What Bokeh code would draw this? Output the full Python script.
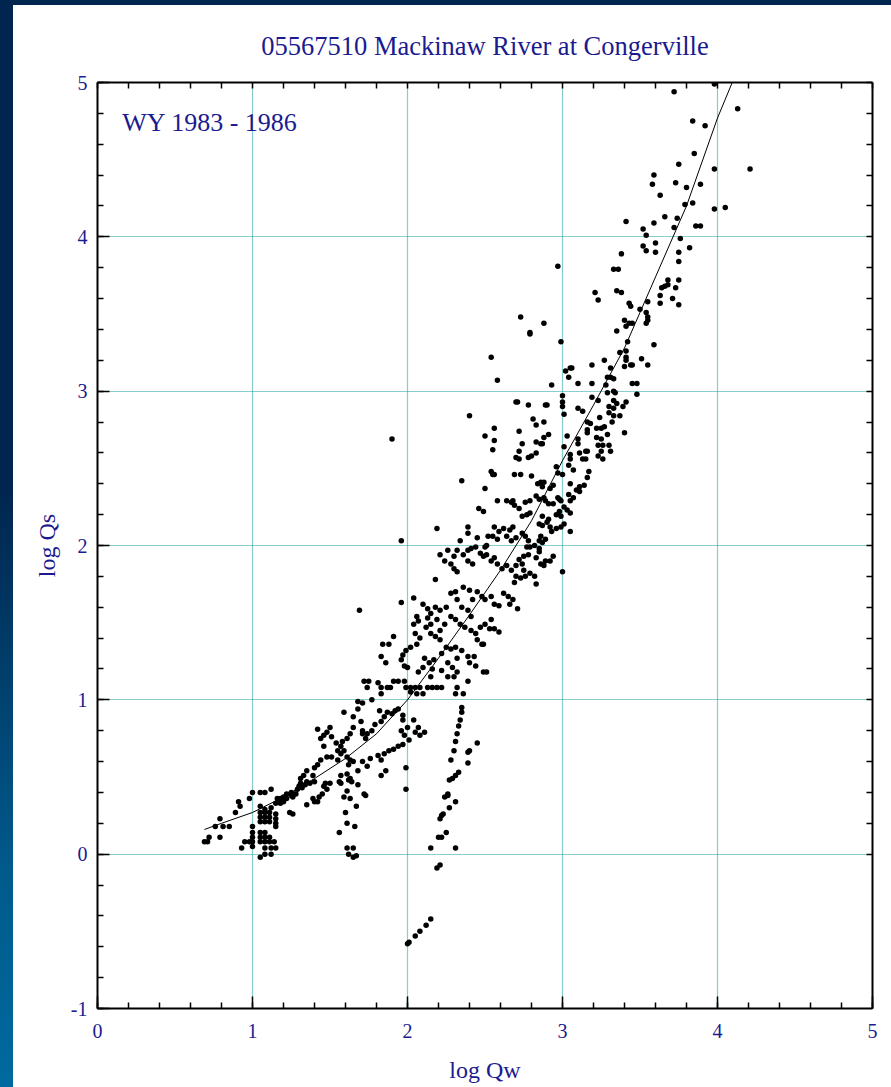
from bokeh.plotting import figure
from bokeh.models import (Label, LinearAxis, SingleIntervalTicker, FixedTicker, Range1d,
                          PrintfTickFormatter, Div)
from bokeh.layouts import column, row
from bokeh.embed import file_html
from bokeh.resources import INLINE

NAVY = "#1b1b8f"
FONT = "Liberation Serif"

title_text = "05567510 Mackinaw River at Congerville"
period_text = "WY 1983 - 1986"
x_label = "log Qw"
y_label = "log Qs"

pts_top = [(3.98,4.99),(3.72,4.94),(4.13,4.83),(3.84,4.75),(3.92,4.72),(3.85,4.54),(3.75,4.47),(3.98,4.44),
           (4.21,4.44),(3.59,4.40),(3.58,4.34),(3.73,4.35),(3.80,4.32),(3.89,4.34),(3.63,4.27),(3.79,4.21),
           (3.84,4.22),(3.98,4.18),(4.05,4.19),(3.41,4.10),(3.66,4.13),(3.74,4.12),(3.59,4.09),(3.52,4.05),
           (3.72,4.06),(3.86,4.07),(3.89,4.07),(3.54,4.01),(3.76,3.99),(3.52,3.94),(3.60,3.96),(3.82,3.93),
           (3.38,3.89),(3.54,3.91),(3.60,3.90),(3.75,3.90),(3.75,3.84),(3.33,3.79),(3.36,3.79),(3.68,3.72),
           (3.75,3.72)]

pts_upper = [(2.97,3.81),(3.64,3.67),(3.66,3.68),(3.68,3.69),(3.73,3.67),(3.35,3.65),(3.38,3.64),(3.21,3.64),
             (3.23,3.59),(3.63,3.62),(3.63,3.57),(3.71,3.60),(3.75,3.56),(3.43,3.57),(3.44,3.55),(3.55,3.58),
             (3.50,3.53),(3.54,3.51),(3.55,3.48),(3.55,3.46),(3.54,3.44),(3.40,3.46),(3.43,3.44),(3.45,3.44),
             (3.41,3.42),(3.35,3.39),(2.88,3.44),(2.79,3.38),(2.99,3.32),(3.42,3.32),(3.59,3.30),(3.41,3.26),
             (3.37,3.25),(3.41,3.22),(3.41,3.20),(3.51,3.21),(3.27,3.20),(3.19,3.17),(3.44,3.17),(3.45,3.17),
             (3.40,3.16),(3.55,3.17),(3.31,3.15),(3.06,3.15),(3.05,3.15),(3.02,3.13),(3.04,3.09),(3.29,3.09),
             (3.31,3.09),(3.33,3.08),(3.10,3.05),(3.19,3.05),(2.93,3.04),(3.28,3.04),(3.45,3.05),(3.48,3.05),
             (3.33,3.00),(3.34,2.99),(3.29,2.99),(3.48,2.98),(3.00,2.97),(3.19,2.96),(3.23,2.94),(3.33,2.94),
             (3.35,2.92),(3.41,2.93),(3.00,2.93),(3.00,2.90),(2.89,2.91),(2.90,2.91),(3.30,2.90),(3.33,2.89),
             (3.39,2.90),(3.10,2.89),(3.13,2.87),(3.01,2.85),(3.30,2.86),(3.33,2.84),(3.37,2.84),(3.24,2.83),
             (2.81,2.82),(2.83,2.78),(2.88,2.80),(3.16,2.80),(3.18,2.79),(3.32,2.80),(3.22,2.76),(3.25,2.76),
             (3.27,2.77),(3.16,2.75),(3.16,2.73),(3.29,2.72),(3.22,2.70),(3.25,2.69),(3.40,2.73),(2.91,2.72),
             (2.88,2.70),(3.03,2.71),(2.83,2.67),(2.86,2.66),(2.87,2.66),(3.10,2.69),(3.01,2.64),(3.10,2.66),
             (3.23,2.65),(3.26,2.65),(3.30,2.65),(3.15,2.61),(3.16,2.61),(3.25,2.61),(3.31,2.61),(2.83,2.60),
             (3.05,2.59),(3.11,2.60),(3.23,2.58),(3.13,2.56),(3.15,2.56),(3.26,2.56),(3.05,2.56),
             (2.73,3.48),(2.79,3.37),(2.54,3.22),(2.58,3.07)]

pts_middle = [(2.70,2.93),(2.71,2.93),(2.78,2.91),(2.40,2.84),(1.90,2.69),(2.56,2.76),(2.56,2.68),(2.50,2.71),
              (2.55,2.62),(2.72,2.74),(2.74,2.66),(2.72,2.61),(2.72,2.56),(2.70,2.57),(2.78,2.57),(2.80,2.58),
              (2.54,2.48),(2.55,2.46),(2.56,2.46),(2.35,2.42),(2.50,2.37),(2.69,2.46),(2.73,2.46),(2.80,2.45),
              (2.84,2.40),(2.87,2.38),(2.88,2.41),(2.92,2.37),(2.94,2.39),(2.96,2.51),(2.97,2.47),(3.00,2.46),
              (3.04,2.52),(3.07,2.49),(3.05,2.40),(3.09,2.36),(3.11,2.38),(3.04,2.33),(3.07,2.31),(3.05,2.29),
              (3.11,2.35),(3.17,2.48),(3.16,2.44),(3.14,2.39),(2.86,2.41),(2.83,2.32),(2.85,2.30),(2.88,2.31),
              (2.89,2.29),(2.91,2.27),(2.97,2.31),(2.98,2.30),(2.99,2.29),(2.94,2.27),(3.01,2.25),(3.03,2.23),
              (3.05,2.21),(2.98,2.22),(2.96,2.20),(2.99,2.19),(2.87,2.19),(2.91,2.17),(2.85,2.14),(2.87,2.13),
              (2.90,2.15),(2.92,2.12),(2.93,2.09),(2.96,2.11),(2.99,2.12),(3.01,2.14),(3.05,2.09),(2.86,2.06),
              (2.85,2.03),(2.79,2.21),(2.77,2.20),(2.74,2.19),(2.79,2.29),(2.76,2.28),(2.72,2.24),(2.69,2.26),
              (2.64,2.29),(2.67,2.28),(2.68,2.29),(2.58,2.29),(2.46,2.24),(2.49,2.22),(2.39,2.12),(2.39,2.08),
              (2.19,2.11),(1.96,2.03),(2.56,2.12),(2.59,2.09),(2.62,2.11),(2.66,2.10),(2.68,2.12),(2.45,2.05),
              (2.52,2.06),(2.50,1.99),(2.51,2.00),(2.55,2.06),(2.58,2.04),(2.64,2.06),(2.67,2.03),(2.70,2.05),
              (2.74,2.08),(2.76,2.06),(2.78,2.03),(2.82,2.00),(2.85,1.98),(2.77,1.99),(2.79,1.99),(2.87,2.02),
              (2.89,2.04),(2.75,1.93),(2.78,1.94),(2.72,1.91),(2.74,1.88),(2.70,1.87),(2.75,1.84),(2.83,1.92),
              (2.85,1.96),(2.86,1.88),(2.88,1.87),(2.89,1.90),(2.92,1.90),(2.94,1.93),(3.00,1.83),(2.79,1.82),
              (2.82,1.80),(2.83,1.75),(2.76,1.80),(2.73,1.79),(2.70,1.80),(2.69,1.76),(2.67,1.84),(2.64,1.87),
              (2.61,1.85),(2.58,1.88),(2.56,1.92),(2.54,1.90),(2.51,1.94),(2.49,1.93),(2.47,1.95),(2.44,1.99),
              (2.41,1.98),(2.39,1.97),(2.36,1.94),(2.39,1.90),(2.42,1.88),(2.34,2.03),(2.32,1.97),(2.30,1.93),
              (2.26,1.97),(2.24,1.90),(2.21,1.94),(2.28,1.88),(2.30,1.85),(2.32,1.83),(2.18,1.78)]

pts_lower_mid = [(1.96,1.63),(1.69,1.58),(2.04,1.66),(2.10,1.62),(2.13,1.59),(2.15,1.56),(2.18,1.60),(2.21,1.58),
                 (2.25,1.60),(2.28,1.69),(2.31,1.70),(2.32,1.65),(2.36,1.73),(2.40,1.71),(2.42,1.65),(2.45,1.70),
                 (2.48,1.67),(2.50,1.65),(2.54,1.67),(2.56,1.62),(2.59,1.61),(2.62,1.69),(2.65,1.67),(2.68,1.65),
                 (2.71,1.59),(2.66,1.62),(2.35,1.60),(2.39,1.58),(2.41,1.54),(2.28,1.54),(2.31,1.52),(2.34,1.49),
                 (2.19,1.52),(2.24,1.49),(2.21,1.45),(2.13,1.53),(2.15,1.49),(2.12,1.47),(2.06,1.54),(2.07,1.51),
                 (2.04,1.49),(2.37,1.47),(2.41,1.45),(2.44,1.43),(2.47,1.47),(2.50,1.49),(2.54,1.52),(2.53,1.46),
                 (2.56,1.46),(2.59,1.44),(2.45,1.39),(2.48,1.36),(2.49,1.36),(2.15,1.43),(2.18,1.41),(2.21,1.39),
                 (2.25,1.34),(2.28,1.33),(2.31,1.34),(2.35,1.32),(2.39,1.28),(2.43,1.28),(2.05,1.43),(2.08,1.40),
                 (2.06,1.36),(2.02,1.34),(1.99,1.32),(1.97,1.29),(1.96,1.26),(1.98,1.22),(2.00,1.21),(1.91,1.41),
                 (1.88,1.36),(1.84,1.36),(1.83,1.28),(1.86,1.24),(2.11,1.27),(2.14,1.24),(2.17,1.26),(2.22,1.30),
                 (2.26,1.24),(2.29,1.21),(2.32,1.27),(2.32,1.18),(2.40,1.24),(2.44,1.22),(2.49,1.18),(2.51,1.18),
                 (2.22,1.19),(2.26,1.15),(2.30,1.15),(2.16,1.20),(2.15,1.15),(2.10,1.21),(2.07,1.18),(2.39,1.12),
                 (2.32,1.08),(2.31,1.04),(2.36,1.04),(1.72,1.12),(1.75,1.12),(1.74,1.08),(1.81,1.11),(1.83,1.08),
                 (1.87,1.08),(1.89,1.08),(1.91,1.12),(1.94,1.12),(1.98,1.12),(1.99,1.08),(2.02,1.08),(2.05,1.08),
                 (2.08,1.08),(2.13,1.08),(2.16,1.08),(2.19,1.08),(2.22,1.08),(2.02,1.05),(2.06,1.04),(2.10,1.04),
                 (1.83,1.04)]

pts_low = [(1.68,0.99),(1.71,0.98),(1.77,1.00),(1.82,0.93),(1.85,0.89),(1.83,0.86),(1.87,0.92),(1.90,0.91),
           (1.92,0.93),(1.94,0.94),(1.97,0.90),(1.97,0.87),(1.59,0.92),(1.68,0.94),(1.65,0.89),(1.70,0.86),
           (1.65,0.82),(1.71,0.80),(1.71,0.78),(1.73,0.75),(1.74,0.78),(1.77,0.80),(1.79,0.84),(1.63,0.78),
           (1.61,0.75),(1.58,0.73),(1.50,0.82),(1.48,0.79),(1.46,0.77),(1.42,0.81),(1.44,0.75),(1.46,0.70),
           (1.51,0.76),(1.54,0.72),(1.55,0.67),(1.57,0.70),(1.59,0.67),(1.48,0.63),(1.51,0.63),(1.55,0.61),
           (1.57,0.65),(1.61,0.63),(1.63,0.61),(1.62,0.58),(1.65,0.60),(1.68,0.54),(1.71,0.60),(1.74,0.57),
           (1.76,0.62),(1.81,0.64),(1.83,0.61),(1.85,0.65),(1.88,0.67),(1.91,0.68),(1.94,0.70),(1.96,0.80),
           (1.98,0.77),(2.00,0.82),(2.04,0.87),(2.07,0.82),(2.05,0.79),(2.08,0.77),(2.11,0.79),(2.01,0.74),
           (1.97,0.71),(1.44,0.61),(1.42,0.58),(1.40,0.56),(1.35,0.54),(1.33,0.51),(1.31,0.49),(1.39,0.51),
           (1.57,0.51),(1.61,0.52),(1.63,0.49),(1.83,0.51),(1.86,0.54),(1.99,0.56)]

pts_left = [(0.69,0.08),(0.71,0.08),(0.72,0.11),(0.79,0.11),(0.76,0.18),(0.81,0.18),(0.85,0.18),(0.79,0.23),
            (1.00,0.40),(1.05,0.40),(1.08,0.40),(1.12,0.42),(0.91,0.34),(0.92,0.31),(0.89,0.27),(0.98,0.36),
            (1.05,0.31),(1.08,0.29),(1.12,0.30),(1.15,0.33),(1.17,0.35),(1.18,0.33),(1.20,0.34),(1.22,0.36),
            (1.25,0.38),(1.27,0.39),(1.16,0.36),(1.18,0.36),(1.20,0.37),(1.22,0.39),(1.25,0.40),(1.26,0.37),
            (1.28,0.39),(1.29,0.42),(1.30,0.44),(1.31,0.46),(1.32,0.43),(1.34,0.45),(1.35,0.47),(1.37,0.46),
            (1.40,0.47),(1.05,0.27),(1.08,0.27),(1.11,0.27),(1.05,0.24),(1.08,0.24),(1.11,0.24),(1.05,0.21),
            (1.08,0.21),(1.11,0.21),(1.15,0.26),(1.15,0.23),(1.15,0.20),(1.00,0.18),(1.00,0.14),(1.00,0.11),
            (1.00,0.08),(1.00,0.05),(1.05,0.14),(1.08,0.14),(1.05,0.11),(1.08,0.11),(1.11,0.11),(1.05,0.08),
            (1.08,0.08),(1.11,0.08),(1.14,0.08),(0.95,0.08),(0.98,0.08),(0.93,0.04),(1.08,0.04),(1.12,0.04),
            (1.15,0.04),(1.08,0.00),(1.12,0.00),(1.05,-0.02),(1.15,0.18),(1.24,0.27),(1.26,0.26),(1.35,0.32),
            (1.39,0.36),(1.40,0.34),(1.42,0.34),(1.43,0.37),(1.45,0.39),(1.48,0.42),(1.50,0.46),(1.47,0.46),
            (1.46,0.44),(1.56,0.47),(1.57,0.46),(1.63,0.36),(1.67,0.31),(1.60,0.27),(1.61,0.20),(1.66,0.18),
            (1.56,0.14),(1.61,0.04),(1.65,0.04),(1.62,0.00),(1.67,-0.01),(1.65,-0.02),(1.68,0.45),(1.72,0.39),
            (1.73,0.38),(1.62,0.48),(1.64,0.47),(1.99,0.42),(1.59,0.37),(1.61,0.41)]

pts_rays = [(2.35,0.95),(2.35,0.92),(2.34,0.87),(2.33,0.83),(2.32,0.78),(2.31,0.73),(2.30,0.67),(2.28,0.61),
            (2.33,0.53),(2.31,0.51),(2.29,0.49),(2.27,0.48),(2.45,0.72),(2.40,0.67),(2.39,0.66),(2.39,0.59),
            (2.26,0.38),(2.24,0.37),(2.26,0.39),(2.31,0.34),(2.27,0.30),(2.23,0.26),(2.22,0.25),(2.21,0.23),
            (2.25,0.14),(2.22,0.11),(2.20,0.11),(2.15,0.04),(2.31,0.04),(2.21,-0.07),(2.19,-0.09),(2.15,-0.42),
            (2.12,-0.46),(2.08,-0.50),(2.05,-0.53),(2.01,-0.57),(2.00,-0.58)]

# ---- fitted rating curve ----
fit_qw = [0.69, 0.8, 1.0, 1.2, 1.4, 1.6, 1.8, 2.0, 2.2, 2.4, 2.6, 2.8, 3.0, 3.2, 3.4, 3.6, 3.8, 4.0, 4.095]
fit_qs = [0.16, 0.20, 0.27, 0.37, 0.49, 0.62, 0.78, 1.00, 1.27, 1.55, 1.84, 2.16, 2.55, 2.91, 3.28, 3.74, 4.20, 4.77, 5.0]

all_pts = pts_top + pts_upper + pts_middle + pts_lower_mid + pts_low + pts_left + pts_rays
qw = [a for a, b in all_pts]
qs = [b for a, b in all_pts]

minor_steps = [i / 5 for i in range(26)]

p = figure(frame_width=775, frame_height=926,
           x_range=Range1d(0, 5), y_range=Range1d(-1, 5),
           output_backend="svg", toolbar_location=None,
           min_border_left=84, min_border_top=77, min_border_right=19, min_border_bottom=10,
           background_fill_color="white", border_fill_color="white", outline_line_color=None,
           margin=0)

def style_axis(ax):
    ax.axis_line_color = "black"
    ax.axis_line_width = 2
    ax.major_tick_in = 12
    ax.major_tick_out = 0
    ax.minor_tick_in = 6
    ax.minor_tick_out = 0
    ax.major_tick_line_color = "black"
    ax.minor_tick_line_color = "black"
    ax.major_tick_line_width = 1.5
    ax.minor_tick_line_width = 1.5
    ax.major_label_text_font = FONT
    ax.major_label_text_font_size = "20px"
    ax.major_label_text_color = NAVY
    ax.axis_label_text_font = FONT
    ax.axis_label_text_font_size = "24px"
    ax.axis_label_text_font_style = "normal"
    ax.axis_label_text_color = NAVY

for ax in (p.xaxis[0], p.yaxis[0]):
    ax.ticker = SingleIntervalTicker(interval=1, num_minor_ticks=5)
    ax.formatter = PrintfTickFormatter(format="%d")
    style_axis(ax)
p.xaxis[0].axis_label = x_label
p.yaxis[0].axis_label = y_label
p.xaxis[0].major_label_standoff = 15
p.xaxis[0].axis_label_standoff = 16
p.yaxis[0].major_label_standoff = 10
p.yaxis[0].axis_label_standoff = 8

for loc in ("above", "right"):
    ax = LinearAxis(ticker=FixedTicker(ticks=[], minor_ticks=minor_steps))
    style_axis(ax)
    p.add_layout(ax, loc)

for g in (p.xgrid[0], p.ygrid[0]):
    g.ticker = SingleIntervalTicker(interval=1)
    g.grid_line_color = "#109c9c"
    g.grid_line_dash = "1 1"
    g.grid_line_width = 1.2

p.title.text = title_text
p.title.align = "center"
p.title.text_font = FONT
p.title.text_font_size = "26.5px"
p.title.text_font_style = "normal"
p.title.text_color = NAVY
p.title.standoff = 43
p.title.offset = 8

p.line(fit_qw, fit_qs, line_color="black", line_width=1)
p.scatter(qw, qs, size=5.5, fill_color="black", line_color="black", line_width=0)

p.add_layout(Label(x=0.16, y=4.74, text=period_text, text_font=FONT, text_font_size="26px",
                   text_color=NAVY, text_baseline="alphabetic"))

top_bar = Div(width=891, height=5, margin=0, styles={"background-color": "#00264f"})
left_bar = Div(width=13, height=1082, margin=0,
               styles={"background": "linear-gradient(to bottom, #00264f 0%, #00264f 45%, #005a8c 80%, #006a9e 100%)"})
page = column(top_bar, row(left_bar, p, spacing=0, margin=0), spacing=0, margin=0)

open("out.html", "w").write(file_html(page, INLINE))
